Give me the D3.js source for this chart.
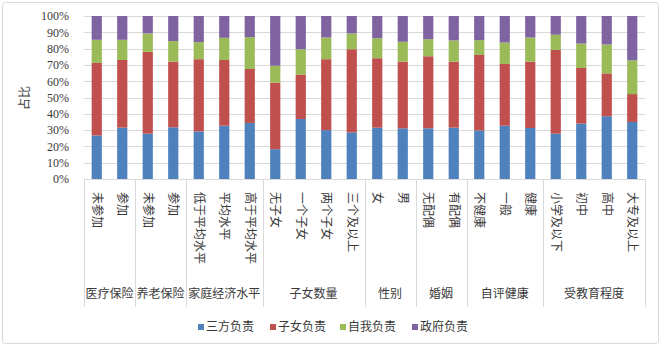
<!DOCTYPE html>
<meta charset="utf-8">
<script src="https://cdn.jsdelivr.net/npm/d3@7"></script>
<style>
  body { margin: 0; background: #fff; }
  text { font-family: "Liberation Serif", "Noto Sans CJK SC", serif; fill: #3a3a3a; }
</style>
<div id="my_dataviz"></div>
<script>

  // categories and their groups
  var categories = ["未参加", "参加", "未参加", "参加", "低于平均水平", "平均水平", "高于平均水平",
    "无子女", "一个子女", "两个子女", "三个及以上", "女", "男", "无配偶", "有配偶",
    "不健康", "一般", "健康", "小学及以下", "初中", "高中", "大专及以上"];
  var groups = ["医疗保险", "养老保险", "家庭经济水平", "子女数量", "性别", "婚姻", "自评健康", "受教育程度"];
  var groupSizes = [2, 2, 3, 4, 2, 2, 3, 4];

  // series (percent)
  var seriesNames = ["三方负责", "子女负责", "自我负责", "政府负责"];
  var sanfang = [26.7, 31.5, 27.8, 31.7, 29.2, 32.7, 34.4, 18.3, 36.8, 30.0, 28.6, 31.5, 31.1, 31.1, 31.5, 29.8, 32.7, 31.3, 27.8, 34.0, 38.5, 35.0];
  var zinv    = [44.5, 41.5, 50.2, 40.3, 44.3, 40.3, 33.1, 40.8, 27.2, 43.5, 51.0, 42.6, 40.9, 44.2, 40.5, 46.3, 37.9, 40.7, 51.4, 34.1, 26.3, 17.1];
  var ziwo    = [14.2, 12.4, 11.3, 12.6, 10.5, 13.6, 19.5, 10.4, 15.6, 13.3, 9.7, 12.3, 12.2, 10.5, 13.0, 9.1, 13.1, 14.8, 9.3, 15.0, 17.7, 20.7];
  var zhengfu = [14.6, 14.6, 10.7, 15.4, 16.0, 13.4, 13.0, 30.5, 20.4, 13.2, 10.7, 13.6, 15.8, 14.2, 15.0, 14.8, 16.3, 13.2, 11.5, 16.9, 17.5, 27.2];
  var yTicks = [0, 0.1, 0.2, 0.3, 0.4, 0.5, 0.6, 0.7, 0.8, 0.9, 1];
  var colors = ["#4F81BD", "#C0504D", "#9BBB59", "#8064A2"];

  var W = 661, H = 346;
  var margin = { top: 16, right: 16, bottom: 167, left: 84 },
    width = W - margin.left - margin.right,
    height = H - margin.top - margin.bottom;

  var root = d3.select("#my_dataviz")
    .append("svg")
    .attr("width", W)
    .attr("height", H);

  // outer frame
  root.append("rect")
    .attr("x", 2.5).attr("y", 2.5)
    .attr("width", W - 5).attr("height", H - 5)
    .attr("rx", 3)
    .attr("fill", "#fff")
    .attr("stroke", "#d9d9d9");

  var svg = root.append("g")
    .attr("transform", "translate(" + margin.left + "," + margin.top + ")");

  var data = categories.map(function (c, i) {
    return { idx: i, name: c, s0: sanfang[i], s1: zinv[i], s2: ziwo[i], s3: zhengfu[i] };
  });
  // normalise to 100%
  data.forEach(function (d) {
    var t = d.s0 + d.s1 + d.s2 + d.s3;
    d.s0 /= t; d.s1 /= t; d.s2 /= t; d.s3 /= t;
  });

  var x = d3.scaleBand()
    .domain(d3.range(categories.length))
    .range([0, width])
    .paddingInner(0.6)
    .paddingOuter(0.3);

  var y = d3.scaleLinear()
    .domain([0, 1])
    .range([height, 0]);

  // grid lines
  svg.append("g")
    .selectAll("line")
    .data(yTicks)
    .enter()
    .append("line")
    .attr("x1", 0).attr("x2", width)
    .attr("y1", function (d) { return Math.round(y(d)) + 0.5; })
    .attr("y2", function (d) { return Math.round(y(d)) + 0.5; })
    .attr("stroke", "#d9d9d9");

  // Y axis
  var yAxis = svg.append("g")
    .attr("transform", "translate(-12,0)")
    .call(d3.axisLeft(y).tickValues(yTicks).tickFormat(d3.format(".0%")).tickSize(0));
  yAxis.select(".domain").remove();
  yAxis.selectAll("text")
    .style("font-size", "12px")
    .style("font-family", "'Liberation Serif', serif")
    .attr("fill", "#262626");

  // Y axis label
  svg.append("text")
    .attr("text-anchor", "middle")
    .attr("transform", "rotate(-90)")
    .attr("y", -55)
    .attr("x", -82)
    .style("font-size", "12px")
    .text("占比");

  // bars
  var stack = d3.stack().keys(["s0", "s1", "s2", "s3"]);
  var layers = stack(data);

  svg.append("g")
    .selectAll("g")
    .data(layers)
    .enter()
    .append("g")
    .attr("fill", function (d, i) { return colors[i]; })
    .selectAll("rect")
    .data(function (d) { return d; })
    .enter()
    .append("rect")
    .attr("x", function (d) { return x(d.data.idx); })
    .attr("y", function (d) { return y(d[1]); })
    .attr("height", function (d) { return y(d[0]) - y(d[1]); })
    .attr("width", x.bandwidth());

  // category axis: separators
  var step = x.step();
  var bounds = [0];
  groupSizes.forEach(function (n) { bounds.push(bounds[bounds.length - 1] + n); });

  svg.append("line")
    .attr("x1", 0).attr("x2", width)
    .attr("y1", height + 0.5).attr("y2", height + 0.5)
    .attr("stroke", "#d9d9d9");

  svg.append("g")
    .selectAll("line")
    .data(bounds)
    .enter()
    .append("line")
    .attr("x1", function (d) { return Math.round(d * step) + 0.5; })
    .attr("x2", function (d) { return Math.round(d * step) + 0.5; })
    .attr("y1", height)
    .attr("y2", height + 128)
    .attr("stroke", "#d9d9d9");

  // category labels (rotated)
  svg.append("g")
    .selectAll("text")
    .data(categories)
    .enter()
    .append("text")
    .attr("transform", function (d, i) {
      return "translate(" + (x(i) + x.bandwidth() / 2) + "," + (height + 13) + ") rotate(90)";
    })
    .attr("dy", "0.35em")
    .style("font-size", "12px")
    .text(function (d) { return d; });

  // group labels
  svg.append("g")
    .selectAll("text")
    .data(groups)
    .enter()
    .append("text")
    .attr("text-anchor", "middle")
    .attr("x", function (d, i) { return (bounds[i] + bounds[i + 1]) / 2 * step; })
    .attr("y", height + 119)
    .style("font-size", "12px")
    .text(function (d) { return d; });

  // legend
  var legendX = [198, 270, 340, 412];
  var legend = root.append("g")
    .selectAll("g")
    .data(seriesNames)
    .enter()
    .append("g")
    .attr("transform", function (d, i) { return "translate(" + legendX[i] + ",327)"; });
  legend.append("rect")
    .attr("x", 0).attr("y", -3)
    .attr("width", 6).attr("height", 6)
    .attr("fill", function (d, i) { return colors[i]; });
  legend.append("text")
    .attr("x", 8)
    .attr("dy", "0.35em")
    .style("font-size", "12px")
    .text(function (d) { return d; });

</script>
